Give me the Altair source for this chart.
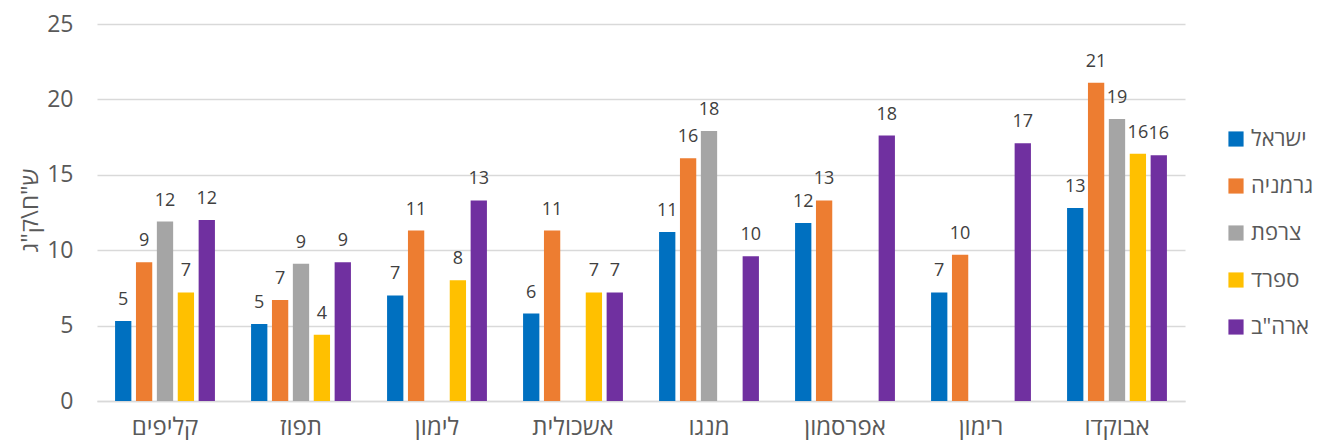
import altair as alt
import pandas as pd

categories = ["קליפים", "תפוז", "לימון", "אשכולית", "מנגו", "אפרסמון", "רימון", "אבוקדו"]
series = ["ישראל", "גרמניה", "\u00a0צרפת", "ספרד", "ארה\"ב"]
colors = ["#0070C0", "#ED7D31", "#A5A5A5", "#FFC000", "#7030A0"]

israel = [5.3, 5.1, 7.0, 5.8, 11.2, 11.8, 7.2, 12.8]
germany = [9.2, 6.7, 11.3, 11.3, 16.1, 13.3, 9.7, 21.1]
france = [11.9, 9.1, None, None, 17.9, None, None, 18.7]
spain = [7.2, 4.4, 8.0, 7.2, None, None, None, 16.4]
usa = [12.0, 9.2, 13.3, 7.2, 9.6, 17.6, 17.1, 16.3]

values = [israel, germany, france, spain, usa]
rows = []
for s, vals in zip(series, values):
    for c, v in zip(categories, vals):
        if v is not None:
            rows.append({"cat": c, "series": s, "value": v})
df = pd.DataFrame(rows)

FONT = "Open Sans, DejaVu Sans, sans-serif"

x = alt.X("cat:N", sort=categories,
          scale=alt.Scale(paddingInner=0.235, paddingOuter=0.1175),
          axis=alt.Axis(title=None, labelAngle=0, labelFontSize=24, labelColor="#595959",
                        labelFont=FONT, labelBaseline="alphabetic", labelPadding=33,
                        ticks=False, domainColor="#D9D9D9", domainWidth=1.5))
xo = alt.XOffset("series:N", sort=series,
                 scale=alt.Scale(domain=series, paddingInner=0.22, paddingOuter=0.1))
yscale = alt.Scale(domain=[0, 25], nice=False)
y = alt.Y("value:Q", scale=yscale,
          axis=alt.Axis(values=[0, 5, 10, 15, 20, 25], title="ש\"ח\\ק\"ג",
                        titleFontSize=24, titleColor="#595959", titleFont=FONT,
                        titleFontWeight="normal", titleX=-67, titleY=186,
                        titleAlign="center", titleBaseline="middle", titleAngle=-90,
                        labelFontSize=23, labelColor="#595959", labelFont=FONT,
                        labelPadding=24, ticks=False, domain=False,
                        gridColor="#D9D9D9", gridWidth=1.5))

bars = alt.Chart(df).mark_bar().encode(
    x=x, xOffset=xo, y=y,
    color=alt.Color("series:N", sort=series,
                    scale=alt.Scale(domain=series, range=colors),
                    legend=alt.Legend(title=None, orient="none", legendX=1128, legendY=104,
                                      symbolType="square", symbolSize=230,
                                      symbolStrokeWidth=0, labelFontSize=22,
                                      labelColor="#595959", labelFont=FONT,
                                      rowPadding=25, labelOffset=4)),
)

labels = alt.Chart(df).mark_text(fontSize=18, color="#404040", font=FONT,
                                 baseline="alphabetic", dy=-16).encode(
    x=alt.X("cat:N", sort=categories), xOffset=alt.XOffset("series:N", sort=series),
    y=alt.Y("value:Q", scale=yscale),
    text=alt.Text("value:Q", format=".0f"),
)

chart = (bars + labels).properties(
    width=1088, height=377,
    autosize=alt.AutoSizeParams(type="none"),
    padding={"left": 89, "top": 16, "right": 128, "bottom": 39},
).configure_view(stroke=None)

chart.save("out.html", embed_options={"renderer": "svg", "actions": False})
